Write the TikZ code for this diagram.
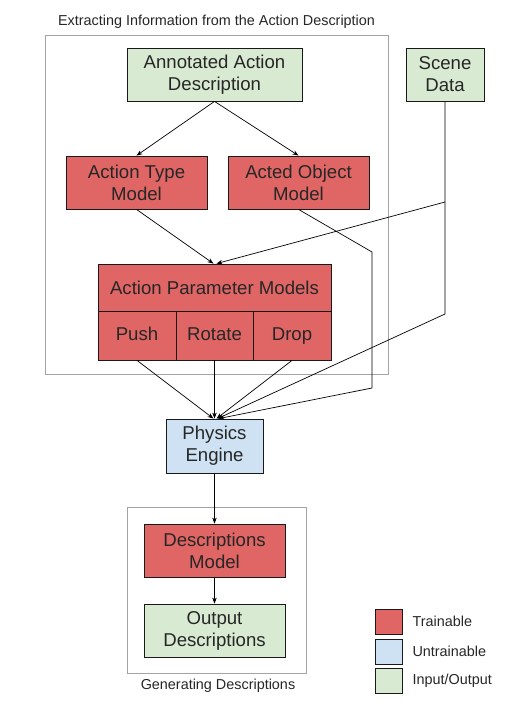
\documentclass[tikz,border=0pt]{standalone}
\usepackage{fontspec}
\setmainfont{Liberation Sans}
\usetikzlibrary{arrows.meta}
\definecolor{rojo}{HTML}{E06666}
\definecolor{verde}{HTML}{D9EAD3}
\definecolor{azul}{HTML}{CFE2F3}
\definecolor{marco}{HTML}{A4A4A4}
\begin{document}
\begin{tikzpicture}[x=1pt, y=-1pt,
    caja/.style={draw=black!90, line width=0.8pt, align=center, inner sep=0pt,
        font=\fontsize{18.6}{22}\selectfont, text=black!85},
    entrenable/.style={caja, fill=rojo},
    fijo/.style={caja, fill=azul},
    datos/.style={caja, fill=verde},
    celda/.style={entrenable, minimum height=49pt, text height=13.5pt, text depth=4pt},
    flecha/.style={-{Stealth[length=6pt,width=4.5pt]}, line width=0.7pt},
    etiqueta/.style={font=\fontsize{14.4}{17}\selectfont, text=black!85}]
    \useasboundingbox (0,0) rectangle (513,710);

    % Marcos de las dos etapas
    \draw[marco, line width=0.8pt] (45,35) rectangle (388,374);
    \node[etiqueta] (titExtr) at (216.5,22) {Extracting Information from the Action Description};
    \draw[marco, line width=0.8pt] (127,507) rectangle (306,673);
    \node[etiqueta] (titGen) at (218,686) {Generating Descriptions};

    % Entradas
    \node[datos, minimum width=175pt, minimum height=53pt] (aad) at (214.5,74.5) {Annotated Action\\Description};
    \node[datos, minimum width=78pt, minimum height=53pt] (scene) at (445,74.5) {Scene\\Data};

    % Modelos de la primera etapa
    \node[entrenable, minimum width=141pt, minimum height=53pt] (atm) at (136.5,182.5) {Action Type\\Model};
    \node[entrenable, minimum width=141pt, minimum height=53pt] (aom) at (298.5,182.5) {Acted Object\\Model};

    % Modelos de parametros
    \node[entrenable, minimum width=233pt, minimum height=47pt] (apm) at (214.5,287.5) {Action Parameter Models};
    \node[celda, minimum width=78pt] (push) at (137,335.5) {Push};
    \node[celda, minimum width=77pt] (rotate) at (214.5,335.5) {Rotate};
    \node[celda, minimum width=78pt] (drop) at (292,335.5) {Drop};

    % Motor fisico y segunda etapa
    \node[fijo, minimum width=97pt, minimum height=54pt] (phys) at (214.5,446) {Physics\\Engine};
    \node[entrenable, minimum width=141pt, minimum height=53pt] (desc) at (214.5,550.5) {Descriptions\\Model};
    \node[datos, minimum width=141pt, minimum height=53pt] (out) at (214.5,630.5) {Output\\Descriptions};

    % Puntos de quiebre
    \coordinate (sceneA) at (445,202);
    \coordinate (sceneB) at (445,314);
    \coordinate (aomA) at (372,252);
    \coordinate (aomB) at (372,388);

    % Conexiones
    \draw[flecha] (aad.south) -- (atm.north);
    \draw[flecha] (aad.south) -- (aom.north);
    \draw[flecha] (atm.south) -- ([xshift=-1pt]apm.north);
    \draw[flecha] (sceneA) -- ([xshift=2pt]apm.north);
    \draw[flecha] (scene.south) -- (sceneB) -- ([xshift=3pt]phys.north);
    \draw[flecha] (aom.south) -- (aomA) -- (aomB) -- ([xshift=4pt]phys.north);
    \draw[flecha] (push.south) -- ([xshift=-1pt]phys.north);
    \draw[flecha] (rotate.south) -- (phys.north);
    \draw[flecha] (drop.south) -- ([xshift=2pt]phys.north);
    \draw[flecha] (phys.south) -- (desc.north);
    \draw[flecha] (desc.south) -- (out.north);

    % Leyenda
    \node[entrenable, minimum width=27pt, minimum height=25pt] (legT) at (388.5,621.5) {};
    \node[fijo, minimum width=27pt, minimum height=25pt] (legU) at (388.5,651.5) {};
    \node[datos, minimum width=27pt, minimum height=25pt] (legI) at (388.5,681) {};
    \node[etiqueta, anchor=west] (txtT) at (409,621.5) {Trainable};
    \node[etiqueta, anchor=west] (txtU) at (409,651.5) {Untrainable};
    \node[etiqueta, anchor=west] (txtI) at (409,681) {Input/Output};
\end{tikzpicture}
\end{document}
